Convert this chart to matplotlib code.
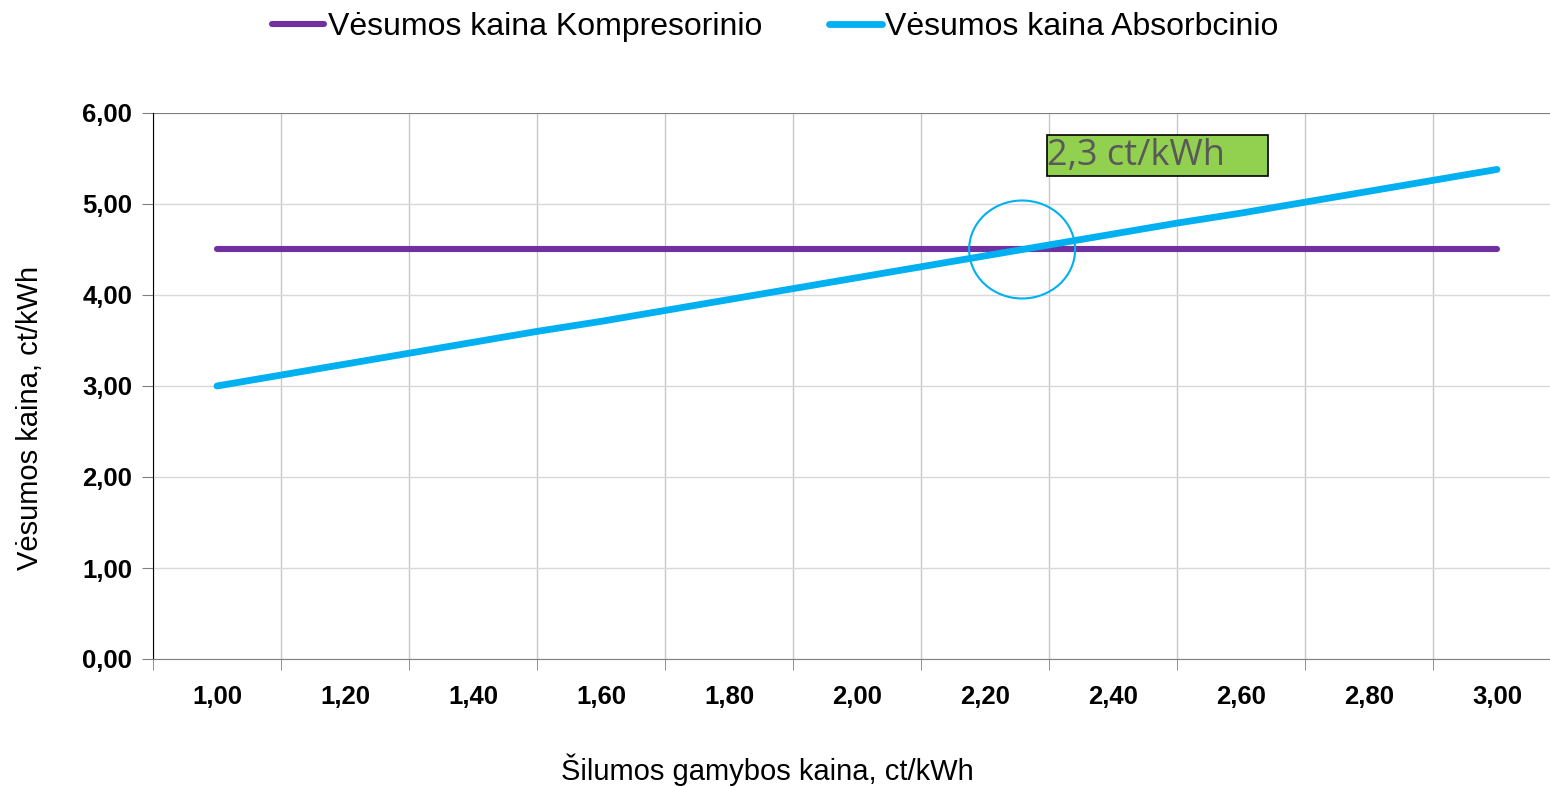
import matplotlib
matplotlib.use('Agg')
import matplotlib.pyplot as plt
from matplotlib.patches import Ellipse, Rectangle

plt.rcParams['font.family'] = ['Liberation Sans', 'DejaVu Sans']

# heat production price, ct/kWh
heat_price = [1.00, 1.10, 1.20, 1.30, 1.40, 1.50, 1.60, 1.70, 1.80, 1.90, 2.00,
              2.10, 2.20, 2.30, 2.40, 2.50, 2.60, 2.70, 2.80, 2.90, 3.00]
# cooling price, compressor chiller
kompresorinio = [4.50] * 21
# cooling price, absorption chiller
absorbcinio = [3.00, 3.12, 3.24, 3.36, 3.48, 3.60, 3.71, 3.83, 3.95, 4.07, 4.19,
               4.31, 4.43, 4.55, 4.67, 4.79, 4.90, 5.02, 5.14, 5.26, 5.38]

x_ticks = [1.00, 1.20, 1.40, 1.60, 1.80, 2.00, 2.20, 2.40, 2.60, 2.80, 3.00]
x_labels = ['1,00', '1,20', '1,40', '1,60', '1,80', '2,00', '2,20', '2,40', '2,60', '2,80', '3,00']
y_ticks = [0, 1, 2, 3, 4, 5, 6]
y_labels = ['0,00', '1,00', '2,00', '3,00', '4,00', '5,00', '6,00']

break_even = 2.258
break_even_cost = 4.50
note = '2,3 ct/kWh'


def main():
    fig = plt.figure(figsize=(15.5, 7.86), dpi=100)
    ax = fig.add_axes([153 / 1550, 1 - 659 / 786, 1 - 153 / 1550, (659 - 113) / 786])

    ax.plot(heat_price, kompresorinio, color='#7030A0', lw=4.4,
            solid_capstyle='round', label='Vėsumos kaina Kompresorinio', zorder=3)
    ax.plot(heat_price, absorbcinio, color='#00B0F0', lw=4.9,
            solid_capstyle='round', label='Vėsumos kaina Absorbcinio', zorder=4)

    ax.set_xlim(0.9, 0.9 + (1550 - 153) / 640)
    ax.set_ylim(0, 6)

    ax.set_xticks(x_ticks)
    ax.set_xticklabels(x_labels, fontsize=18.5, fontweight='bold')
    ax.tick_params(axis='x', which='major', length=0, pad=19)
    minor = [0.9 + 0.2 * i for i in range(11)]
    ax.set_xticks(minor, minor=True)
    ax.tick_params(axis='x', which='minor', length=8, color='#808080')
    ax.grid(axis='x', which='minor', color='#C8C8C8', lw=1)

    ax.set_yticks(y_ticks)
    ax.set_yticklabels(y_labels, fontsize=18.5, fontweight='bold')
    ax.tick_params(axis='y', length=8, color='#808080', pad=7)
    ax.grid(axis='y', color='#D9D9D9', lw=1)

    ax.axhline(6, color='#808080', lw=1.5, zorder=2)
    for s in ['top', 'right']:
        ax.spines[s].set_visible(False)
    ax.spines['left'].set_color('black')
    ax.spines['bottom'].set_color('#808080')

    ax.add_patch(Ellipse((break_even, break_even_cost), 106 / 640, 98 / 91,
                         fill=False, edgecolor='#00B0F0', lw=1.5, zorder=5))
    ax.add_patch(Rectangle((0.9 + (1047 - 153) / 640, (659 - 176) / 91),
                           221 / 640, 41 / 91, facecolor='#92D050',
                           edgecolor='black', lw=1.2, zorder=5))
    ax.text(0.9 + (1047 - 153) / 640, (659 - 156) / 91, note, fontsize=26,
            color='#595959', va='center', ha='left', zorder=6,
            family=['Open Sans', 'DejaVu Sans'])

    fig.legend(loc='center', bbox_to_anchor=(0.5, 1 - 27 / 786), ncol=2,
               frameon=False, fontsize=23, handlelength=1.65,
               handletextpad=0.1, columnspacing=2.1)

    fig.text(30 / 1550, 1 - 418 / 786, 'Vėsumos kaina, ct/kWh', rotation=90,
             ha='center', va='center', fontsize=21)
    fig.text(767 / 1550, 1 - 770 / 786, 'Šilumos gamybos kaina, ct/kWh',
             ha='center', va='center', fontsize=21)

    fig.savefig('out.png', dpi=100)


if __name__ == '__main__':
    main()
